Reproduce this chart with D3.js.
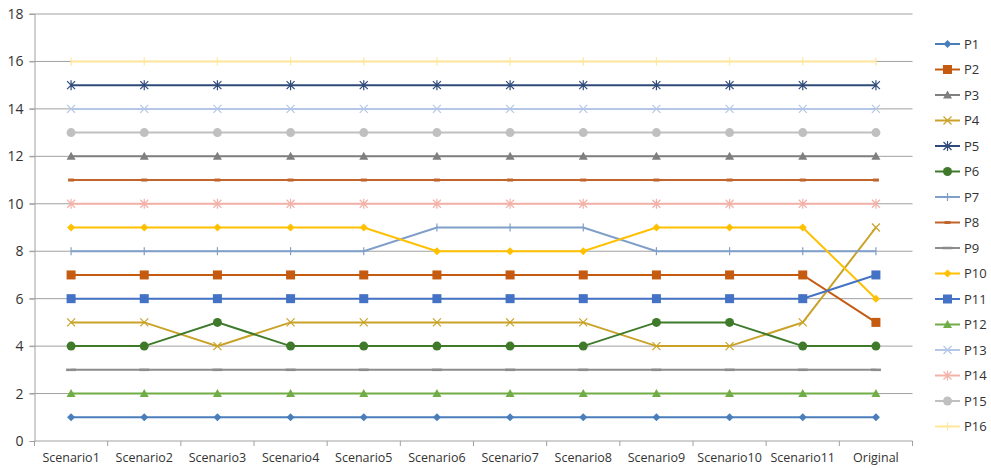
<!DOCTYPE html>
<html><head><meta charset="utf-8">
<script src="https://cdn.jsdelivr.net/npm/d3@7"></script>
<style>body{margin:0;background:#fff;}svg{display:block;font-family:"Open Sans",sans-serif;}</style>
</head><body><svg id="c" width="991" height="468"></svg>
<script>
const categories = ["Scenario1","Scenario2","Scenario3","Scenario4","Scenario5","Scenario6","Scenario7","Scenario8","Scenario9","Scenario10","Scenario11","Original"];
const seriesNames = ["P1","P2","P3","P4","P5","P6","P7","P8","P9","P10","P11","P12","P13","P14","P15","P16"];
const P1  = [1,1,1,1,1,1,1,1,1,1,1,1];
const P2  = [7,7,7,7,7,7,7,7,7,7,7,5];
const P3  = [12,12,12,12,12,12,12,12,12,12,12,12];
const P4  = [5,5,4,5,5,5,5,5,4,4,5,9];
const P5  = [15,15,15,15,15,15,15,15,15,15,15,15];
const P6  = [4,4,5,4,4,4,4,4,5,5,4,4];
const P7  = [8,8,8,8,8,9,9,9,8,8,8,8];
const P8  = [11,11,11,11,11,11,11,11,11,11,11,11];
const P9  = [3,3,3,3,3,3,3,3,3,3,3,3];
const P10 = [9,9,9,9,9,8,8,8,9,9,9,6];
const P11 = [6,6,6,6,6,6,6,6,6,6,6,7];
const P12 = [2,2,2,2,2,2,2,2,2,2,2,2];
const P13 = [14,14,14,14,14,14,14,14,14,14,14,14];
const P14 = [10,10,10,10,10,10,10,10,10,10,10,10];
const P15 = [13,13,13,13,13,13,13,13,13,13,13,13];
const P16 = [16,16,16,16,16,16,16,16,16,16,16,16];
const yTicks = [0,2,4,6,8,10,12,14,16,18];

const values = [P1,P2,P3,P4,P5,P6,P7,P8,P9,P10,P11,P12,P13,P14,P15,P16];
const colors = ["#4A7EBB","#C55A11","#7F7F7F","#C9A227","#2F4A7A","#3E7A2A","#7F9FC8","#C0652B","#8C8C8C","#FFC000","#4472C4","#70AD47","#B4C7E7","#F4B1A8","#C0C0C0","#FFE699"];
const markers = ["diamond","square","triangle","x","star","circle","plus","dash","longdash","diamond","square","triangle","x","star","circle","plus"];

const svg = d3.select("#c");
const L = 34.5, R = 912.5, T = 14, B = 441;
const x = d3.scaleBand().domain(categories).range([L, R]);
const y = d3.scaleLinear().domain([0,18]).range([B, T]);

// gridlines
svg.append("g").selectAll("line").data(yTicks.filter(d=>d>0)).join("line")
  .attr("x1", L-5).attr("x2", R).attr("y1", d=>y(d)).attr("y2", d=>y(d))
  .attr("stroke", "#A0A0A0").attr("stroke-width", 1);

// y axis
const yAxis = svg.append("g").attr("transform", `translate(${L},0)`)
  .call(d3.axisLeft(y).tickValues(yTicks).tickSize(5).tickPadding(6));
yAxis.select(".domain").attr("stroke", "#A0A0A0");
yAxis.selectAll(".tick line").attr("stroke", "#A0A0A0");
yAxis.selectAll("text").attr("font-size", 14).attr("fill", "#333").attr("font-family","Open Sans, sans-serif");

// x axis
const xAxis = svg.append("g").attr("transform", `translate(0,${B})`)
  .call(d3.axisBottom(x).tickSize(0).tickPadding(12));
xAxis.select(".domain").attr("stroke", "#A0A0A0").attr("d", `M${L},0H${R}`);
xAxis.selectAll("text").attr("font-size", 12.5).attr("fill", "#333").attr("font-family","Open Sans, sans-serif");
const bounds = categories.map(c => x(c)).concat([R]);
svg.append("g").selectAll("line").data(bounds).join("line")
  .attr("x1", d=>d).attr("x2", d=>d).attr("y1", B).attr("y2", B+5)
  .attr("stroke", "#A0A0A0");

function drawMarker(g, type, cx, cy, col, s) {
  s = s || 1;
  if (type === "diamond") {
    g.append("path").attr("d", `M${cx},${cy-4*s}L${cx+4*s},${cy}L${cx},${cy+4*s}L${cx-4*s},${cy}Z`).attr("fill", col);
  } else if (type === "square") {
    g.append("rect").attr("x", cx-4.5*s).attr("y", cy-4.5*s).attr("width", 9*s).attr("height", 9*s).attr("fill", col);
  } else if (type === "triangle") {
    g.append("path").attr("d", `M${cx},${cy-4.5*s}L${cx+4.5*s},${cy+3.5*s}L${cx-4.5*s},${cy+3.5*s}Z`).attr("fill", col);
  } else if (type === "x") {
    g.append("path").attr("d", `M${cx-4},${cy-4}L${cx+4},${cy+4}M${cx-4},${cy+4}L${cx+4},${cy-4}`).attr("stroke", col).attr("stroke-width", 1.2);
  } else if (type === "star") {
    g.append("path").attr("d", `M${cx-4},${cy-4}L${cx+4},${cy+4}M${cx-4},${cy+4}L${cx+4},${cy-4}M${cx},${cy-5}L${cx},${cy+5}`).attr("stroke", col).attr("stroke-width", 1.2);
  } else if (type === "circle") {
    g.append("circle").attr("cx", cx).attr("cy", cy).attr("r", 4.5*s).attr("fill", col);
  } else if (type === "plus") {
    g.append("path").attr("d", `M${cx},${cy-4}L${cx},${cy+4}`).attr("stroke", col).attr("stroke-width", 1.2);
  } else if (type === "dash") {
    g.append("path").attr("d", `M${cx-3},${cy}L${cx+3},${cy}`).attr("stroke", col).attr("stroke-width", 3);
  } else if (type === "longdash") {
    g.append("path").attr("d", `M${cx-5},${cy}L${cx+5},${cy}`).attr("stroke", col).attr("stroke-width", 2.5);
  }
}

const line = d3.line().x((d,i)=>x(categories[i]) + x.bandwidth()/2).y(d=>y(d));
const plot = svg.append("g");
seriesNames.forEach((n, si) => {
  const g = plot.append("g");
  g.append("path").datum(values[si]).attr("d", line).attr("fill","none")
    .attr("stroke", colors[si]).attr("stroke-width", 2);
  values[si].forEach((v,i) => drawMarker(g, markers[si], x(categories[i]) + x.bandwidth()/2, y(v), colors[si]));
});

// legend
const leg = svg.append("g");
seriesNames.forEach((n, i) => {
  const ly = 44 + i*25.5;
  const g = leg.append("g");
  g.append("line").attr("x1", 935).attr("x2", 960).attr("y1", ly).attr("y2", ly).attr("stroke", colors[i]).attr("stroke-width", 2);
  drawMarker(g, markers[i], 947.5, ly, colors[i]);
  g.append("text").attr("x", 964).attr("y", ly+4.5).text(n).attr("font-size", 13).attr("fill", "#333");
});
</script></body></html>
